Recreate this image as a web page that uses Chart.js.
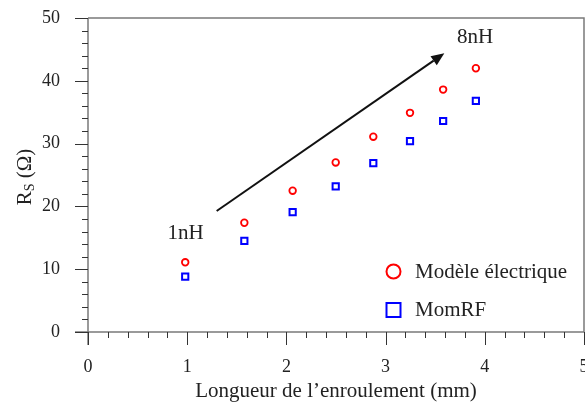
<!DOCTYPE html>
<html>
<head>
<meta charset="utf-8">
<script src="https://cdn.jsdelivr.net/npm/chart.js@4"></script>
<style>
  html, body { margin:0; padding:0; background:#fff; }
  #wrap { width:585px; height:404px; }
</style>
</head>
<body>
<div id="wrap"><canvas id="c" width="585" height="404"></canvas></div>
<script>
// ─── DATA ─────────────────────────────────────────────────────────────────────
const longueurs = [0.98, 1.576, 2.063, 2.497, 2.876, 3.246, 3.58, 3.91];
const rsModele  = [11.1, 17.4, 22.5, 27.0, 31.1, 34.9, 38.6, 42.0];
const rsMomRF   = [8.8, 14.5, 19.1, 23.2, 26.9, 30.4, 33.6, 36.8];
const seriesNames = ['Modèle électrique', 'MomRF'];
const xTicks = [0, 1, 2, 3, 4, 5];
const yTicks = [0, 10, 20, 30, 40, 50];
const arrowFrom = { x: 1.297, y: 19.27, label: '1nH' };
const arrowTo   = { x: 3.592, y: 44.38, label: '8nH' };

const SERIF = '"Liberation Serif", "Times New Roman", serif';
const AXIS = '#7a7a7a', TICK = '#333';

const noPad = s => { s.paddingTop = 0; s.paddingBottom = 0; s.paddingLeft = 0; s.paddingRight = 0; };

// ─── axes, ticks, arrow, legend ───────────────────────────────────────────────
const decor = {
  id: 'decor',
  afterDraw(chart) {
    const { ctx, chartArea: a, scales: { x, y } } = chart;
    ctx.save();
    // frame
    ctx.strokeStyle = AXIS; ctx.lineWidth = 1.5;
    ctx.beginPath();
    ctx.moveTo(a.left, a.top); ctx.lineTo(a.right, a.top); ctx.lineTo(a.right, a.bottom);
    ctx.moveTo(a.left, a.top); ctx.lineTo(a.left, a.bottom + 13);
    ctx.moveTo(a.left - 13, a.bottom); ctx.lineTo(a.right, a.bottom);
    ctx.stroke();
    // ticks
    ctx.strokeStyle = TICK; ctx.lineWidth = 1;
    ctx.beginPath();
    for (let v = 0; v <= 50.001; v += 2) {
      const py = Math.round(y.getPixelForValue(v)) + 0.5;
      const len = (Math.round(v) % 10 === 0) ? 13 : 6;
      ctx.moveTo(a.left - len, py); ctx.lineTo(a.left, py);
    }
    for (let v = 0; v <= 5.001; v += 0.2) {
      const px = Math.round(x.getPixelForValue(v)) + 0.5;
      const len = (Math.abs(v - Math.round(v)) < 1e-6) ? 13 : 6;
      ctx.moveTo(px, a.bottom); ctx.lineTo(px, a.bottom + len);
    }
    ctx.stroke();

    // arrow
    const x0 = x.getPixelForValue(arrowFrom.x), y0 = y.getPixelForValue(arrowFrom.y);
    const x1 = x.getPixelForValue(arrowTo.x),   y1 = y.getPixelForValue(arrowTo.y);
    const ang = Math.atan2(y1 - y0, x1 - x0), hl = 13, hw = 5.5;
    const bx = x1 - hl * Math.cos(ang), by = y1 - hl * Math.sin(ang);
    ctx.strokeStyle = '#111'; ctx.fillStyle = '#111'; ctx.lineWidth = 2;
    ctx.beginPath(); ctx.moveTo(x0, y0); ctx.lineTo(bx, by); ctx.stroke();
    ctx.beginPath();
    ctx.moveTo(x1, y1);
    ctx.lineTo(bx + hw * Math.sin(ang), by - hw * Math.cos(ang));
    ctx.lineTo(bx - hw * Math.sin(ang), by + hw * Math.cos(ang));
    ctx.closePath(); ctx.fill();

    ctx.font = '21px ' + SERIF; ctx.fillStyle = '#222';
    ctx.textAlign = 'center'; ctx.textBaseline = 'middle';
    ctx.fillText(arrowFrom.label, 185.5, 233);
    ctx.fillText(arrowTo.label, 475, 37);

    // legend
    ctx.lineWidth = 2;
    ctx.strokeStyle = '#ff0000';
    ctx.beginPath(); ctx.arc(393.5, 271.5, 7, 0, Math.PI * 2); ctx.stroke();
    ctx.strokeStyle = '#0000ff';
    ctx.strokeRect(386.5, 303, 14, 14);
    ctx.textAlign = 'left';
    ctx.fillText(seriesNames[0], 415, 272);
    ctx.fillText(seriesNames[1], 415, 310);

    // y title  R_S (Ω)
    ctx.translate(24, 177);
    ctx.rotate(-Math.PI / 2);
    ctx.textAlign = 'left'; ctx.textBaseline = 'alphabetic';
    const fR = '21px ' + SERIF, fS = '14px ' + SERIF;
    ctx.font = fR; const wR = ctx.measureText('R').width;
    ctx.font = fS; const wS = ctx.measureText('S').width;
    ctx.font = fR; const wT = ctx.measureText(' (Ω)').width;
    let sx = -(wR + wS + wT) / 2;
    ctx.font = fR; ctx.fillText('R', sx, 7); sx += wR;
    ctx.font = fS; ctx.fillText('S', sx, 10); sx += wS;
    ctx.font = fR; ctx.fillText(' (Ω)', sx, 7);
    ctx.restore();
  }
};

new Chart(document.getElementById('c'), {
  type: 'scatter',
  data: {
    datasets: [
      { label: seriesNames[0], data: longueurs.map((v, i) => ({ x: v, y: rsModele[i] })),
        pointStyle: 'circle', pointRadius: 3.3, borderColor: '#ff0000', borderWidth: 1.8,
        backgroundColor: 'rgba(0,0,0,0)' },
      { label: seriesNames[1], data: longueurs.map((v, i) => ({ x: v, y: rsMomRF[i] })),
        pointStyle: 'rect', pointRadius: 4.4, borderColor: '#0000ff', borderWidth: 2,
        backgroundColor: 'rgba(0,0,0,0)' }
    ]
  },
  options: {
    responsive: false, animation: false, devicePixelRatio: 1,
    layout: { autoPadding: false, padding: { top: 18, right: 1, left: 0, bottom: 0 } },
    plugins: { legend: { display: false }, tooltip: { enabled: false } },
    scales: {
      x: {
        type: 'linear', min: 0, max: 5,
        afterBuildTicks: s => { s.ticks = xTicks.map(v => ({ value: v })); },
        afterFit: s => { s.height = 72; noPad(s); },
        grid: { display: false, drawTicks: false }, border: { display: false },
        ticks: { padding: 24, color: '#222', font: { family: SERIF, size: 18 } },
        title: { display: true, text: 'Longueur de l’enroulement (mm)', color: '#222',
                 padding: { top: 0, bottom: 0 }, font: { family: SERIF, size: 21 } }
      },
      y: {
        type: 'linear', min: 0, max: 50,
        afterBuildTicks: s => { s.ticks = yTicks.map(v => ({ value: v })); },
        afterFit: s => { s.width = 88; noPad(s); },
        grid: { display: false, drawTicks: false }, border: { display: false },
        ticks: { padding: 28, color: '#222', font: { family: SERIF, size: 18 } }
      }
    }
  },
  plugins: [decor]
});
</script>
</body>
</html>
